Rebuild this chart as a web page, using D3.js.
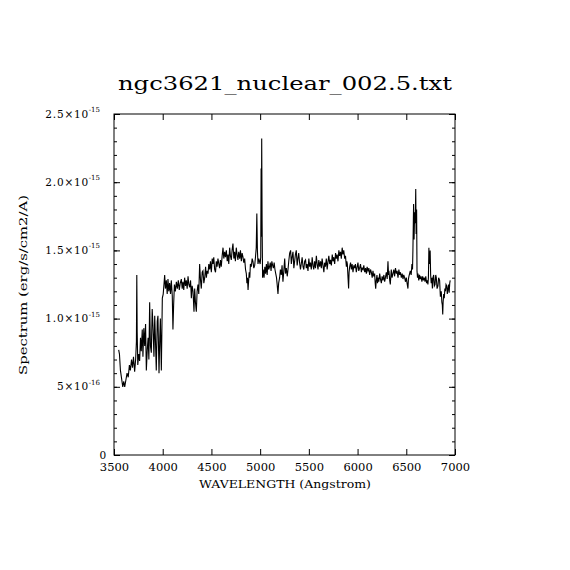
<!DOCTYPE html>
<html>
<head>
<meta charset="utf-8">
<script src="https://cdn.jsdelivr.net/npm/d3@7"></script>
<style>
  body { margin: 0; background: #fff; }
  text { font-family: "DejaVu Serif", serif; fill: #000; }
</style>
</head>
<body>
<div class="canvas"></div>
<script>
// chart text
const title = 'ngc3621_nuclear_002.5.txt';
const xLabel = 'WAVELENGTH (Angstrom)';
const yLabel = 'Spectrum (erg/s/cm2/A)';

// axis ticks (flux in units of 1e-15)
const xTicks = [3500, 4000, 4500, 5000, 5500, 6000, 6500, 7000];
const yTicks = [0, 0.5, 1.0, 1.5, 2.0, 2.5];
const yTickBase = ['0', '5×10', '1.0×10', '1.5×10', '2.0×10', '2.5×10'];
const yTickExp = ['', '-16', '-15', '-15', '-15', '-15'];

// spectrum
const wavelength = [
  3548, 3556, 3566, 3578, 3590, 3600, 3610, 3622, 3634, 3646,
  3658, 3668, 3680, 3690, 3700, 3712, 3722, 3730, 3734, 3738,
  3744, 3754, 3763, 3772, 3780, 3790, 3797, 3806, 3815, 3824,
  3832, 3842, 3850, 3858, 3866, 3874, 3883, 3892, 3900, 3910,
  3918, 3924, 3934, 3944, 3951, 3962, 3970, 3976, 3986, 3996,
  4005, 4014, 4020, 4028, 4037, 4046, 4054, 4062, 4071, 4080,
  4088, 4098, 4105, 4112, 4120, 4130, 4140, 4150, 4160, 4170,
  4180, 4191, 4200, 4208, 4216, 4225, 4234, 4242, 4251, 4260,
  4268, 4277, 4286, 4294, 4302, 4311, 4321, 4328, 4336, 4345,
  4353, 4362, 4370, 4379, 4388, 4396, 4405, 4413, 4422, 4431,
  4440, 4448, 4456, 4465, 4473, 4482, 4490, 4499, 4508, 4516,
  4524, 4533, 4542, 4550, 4558, 4567, 4576, 4584, 4592, 4601,
  4610, 4619, 4627, 4636, 4644, 4653, 4662, 4670, 4678, 4687,
  4695, 4704, 4712, 4721, 4730, 4738, 4746, 4755, 4763, 4772,
  4780, 4790, 4798, 4807, 4815, 4824, 4832, 4841, 4850, 4858,
  4864, 4870, 4876, 4882, 4888, 4894, 4900, 4909, 4918, 4926,
  4935, 4944, 4952, 4960, 4966, 4972, 4978, 4986, 4993, 5000,
  5006, 5010, 5013, 5016, 5020, 5025, 5032, 5040, 5048, 5056,
  5064, 5072, 5080, 5088, 5096, 5104, 5112, 5120, 5128, 5136,
  5144, 5152, 5160, 5168, 5176, 5183, 5190, 5200, 5208, 5217,
  5225, 5234, 5243, 5252, 5260, 5269, 5278, 5286, 5295, 5303,
  5313, 5320, 5328, 5337, 5346, 5354, 5362, 5371, 5380, 5388,
  5396, 5405, 5414, 5422, 5431, 5440, 5448, 5457, 5466, 5474,
  5482, 5491, 5500, 5508, 5516, 5525, 5534, 5542, 5550, 5559,
  5568, 5577, 5585, 5594, 5602, 5611, 5620, 5628, 5636, 5645,
  5654, 5662, 5670, 5679, 5688, 5697, 5705, 5714, 5722, 5731,
  5740, 5748, 5756, 5765, 5774, 5782, 5790, 5799, 5808, 5816,
  5825, 5833, 5842, 5850, 5858, 5868, 5876, 5885, 5890, 5895,
  5902, 5908, 5913, 5919, 5928, 5936, 5944, 5953, 5962, 5970,
  5978, 5987, 5996, 6004, 6012, 6021, 6030, 6039, 6047, 6056,
  6064, 6073, 6082, 6090, 6098, 6107, 6116, 6124, 6133, 6141,
  6150, 6158, 6166, 6175, 6181, 6186, 6192, 6199, 6205, 6210,
  6218, 6227, 6235, 6244, 6252, 6261, 6270, 6278, 6286, 6295,
  6304, 6312, 6318, 6322, 6330, 6336, 6342, 6346, 6354, 6363,
  6372, 6380, 6389, 6398, 6406, 6415, 6424, 6432, 6440, 6449,
  6458, 6466, 6474, 6483, 6492, 6500, 6508, 6517, 6522, 6527,
  6534, 6541, 6550, 6558, 6564, 6568, 6575, 6580, 6586, 6592,
  6597, 6601, 6606, 6610, 6615, 6620, 6628, 6636, 6644, 6652,
  6660, 6668, 6676, 6684, 6692, 6700, 6708, 6716, 6722, 6727,
  6732, 6736, 6740, 6745, 6750, 6756, 6762, 6768, 6774, 6781,
  6788, 6795, 6802, 6808, 6816, 6825, 6832, 6842, 6850, 6859,
  6865, 6870, 6874, 6878, 6884, 6890, 6896, 6902, 6908, 6915,
  6921, 6928, 6934, 6940, 6946, 6951
];
const flux = [
  0.77, 0.74, 0.62, 0.56, 0.50, 0.54, 0.50, 0.55, 0.60, 0.57,
  0.66, 0.62, 0.70, 0.64, 0.72, 0.61, 0.70, 0.83, 1.32, 0.90,
  0.66, 0.74, 0.69, 0.86, 0.76, 0.92, 0.72, 0.93, 0.80, 0.96,
  0.62, 0.78, 0.86, 0.70, 1.12, 0.80, 0.75, 1.07, 0.95, 0.72,
  1.02, 0.88, 0.62, 0.98, 1.02, 0.60, 0.86, 1.00, 0.62, 1.15,
  1.18, 1.26, 1.32, 1.22, 1.28, 1.18, 1.29, 1.20, 1.26, 1.18,
  1.28, 1.17, 0.92, 1.10, 1.25, 1.20, 1.27, 1.22, 1.28, 1.21,
  1.26, 1.29, 1.22, 1.27, 1.21, 1.30, 1.24, 1.28, 1.22, 1.31,
  1.25, 1.23, 1.28, 1.15, 1.24, 1.20, 1.05, 1.22, 1.12, 1.05,
  1.20, 1.25, 1.18, 1.40, 1.28, 1.22, 1.34, 1.35, 1.26, 1.30,
  1.38, 1.30, 1.35, 1.33, 1.40, 1.36, 1.42, 1.34, 1.44, 1.40,
  1.45, 1.36, 1.34, 1.42, 1.38, 1.44, 1.40, 1.37, 1.43, 1.38,
  1.46, 1.52, 1.44, 1.49, 1.45, 1.50, 1.42, 1.47, 1.40, 1.52,
  1.46, 1.43, 1.50, 1.55, 1.44, 1.49, 1.42, 1.52, 1.47, 1.43,
  1.49, 1.44, 1.50, 1.42, 1.48, 1.45, 1.41, 1.44, 1.36, 1.33,
  1.26, 1.30, 1.21, 1.28, 1.34, 1.30, 1.40, 1.38, 1.44, 1.42,
  1.37, 1.39, 1.45, 1.52, 1.77, 1.50, 1.40, 1.44, 1.42, 1.40,
  1.45, 2.10, 1.60, 2.32, 1.72, 1.30, 1.36, 1.30, 1.38, 1.33,
  1.40, 1.32, 1.42, 1.36, 1.38, 1.41, 1.35, 1.42, 1.39, 1.37,
  1.41, 1.36, 1.33, 1.30, 1.24, 1.18, 1.26, 1.30, 1.36, 1.32,
  1.39, 1.27, 1.35, 1.44, 1.33, 1.37, 1.31, 1.36, 1.43, 1.48,
  1.50, 1.40, 1.45, 1.49, 1.37, 1.42, 1.47, 1.50, 1.39, 1.44,
  1.48, 1.41, 1.36, 1.40, 1.45, 1.38, 1.36, 1.42, 1.43, 1.37,
  1.40, 1.35, 1.44, 1.38, 1.41, 1.36, 1.45, 1.39, 1.36, 1.42,
  1.37, 1.46, 1.40, 1.36, 1.43, 1.38, 1.42, 1.37, 1.44, 1.39,
  1.34, 1.41, 1.38, 1.44, 1.36, 1.42, 1.46, 1.40, 1.43, 1.39,
  1.47, 1.42, 1.45, 1.40, 1.48, 1.44, 1.47, 1.42, 1.50, 1.46,
  1.49, 1.44, 1.52, 1.47, 1.50, 1.44, 1.46, 1.38, 1.42, 1.40,
  1.30, 1.22, 1.34, 1.38, 1.41, 1.36, 1.40, 1.34, 1.39, 1.37,
  1.40, 1.34, 1.38, 1.41, 1.35, 1.37, 1.40, 1.34, 1.37, 1.36,
  1.39, 1.34, 1.37, 1.33, 1.38, 1.35, 1.37, 1.32, 1.36, 1.34,
  1.30, 1.35, 1.31, 1.33, 1.26, 1.22, 1.28, 1.32, 1.26, 1.30,
  1.27, 1.33, 1.29, 1.26, 1.31, 1.28, 1.32, 1.27, 1.30, 1.34,
  1.29, 1.42, 1.32, 1.35, 1.28, 1.25, 1.32, 1.36, 1.30, 1.33,
  1.36, 1.31, 1.37, 1.33, 1.35, 1.30, 1.36, 1.32, 1.34, 1.30,
  1.33, 1.29, 1.32, 1.30, 1.27, 1.30, 1.26, 1.22, 1.29, 1.31,
  1.33, 1.35, 1.32, 1.40, 1.36, 1.50, 1.84, 1.58, 1.78, 1.70,
  1.95, 1.62, 1.80, 1.35, 1.30, 1.33, 1.28, 1.32, 1.29, 1.31,
  1.27, 1.31, 1.28, 1.30, 1.27, 1.31, 1.26, 1.28, 1.25, 1.30,
  1.52, 1.40, 1.42, 1.50, 1.32, 1.26, 1.30, 1.22, 1.30, 1.32,
  1.24, 1.25, 1.32, 1.30, 1.22, 1.24, 1.30, 1.28, 1.16, 1.20,
  1.12, 1.10, 1.03, 1.12, 1.18, 1.15, 1.22, 1.20, 1.25, 1.24,
  1.18, 1.22, 1.25, 1.19, 1.26, 1.28
];

const data = wavelength.map((w, i) => ({ w, f: flux[i] }));

// graph dimensions
const margin = { top: 114, left: 114 };
const graphWidth = 341;
const graphHeight = 341;

const svg = d3.select('.canvas')
  .append('svg')
  .attr('width', 570)
  .attr('height', 570);

const graph = svg.append('g')
  .attr('transform', `translate(${margin.left}, ${margin.top})`);

// scales
const x = d3.scaleLinear().domain([3500, 7000]).range([0, graphWidth]);
const y = d3.scaleLinear().domain([0, 2.5]).range([graphHeight, 0]);

// spectrum line
const line = d3.line()
  .x(d => x(d.w))
  .y(d => y(d.f));

graph.append('path')
  .datum(data)
  .attr('fill', 'none')
  .attr('stroke', '#000')
  .attr('stroke-width', 1.1)
  .attr('d', line);

// axes: ticks point inward on all four sides
const minorY = d3.range(0, 26).map(d => d / 10);

const strip = g => { g.select('.domain').remove(); g.selectAll('line').attr('stroke', '#000'); };

graph.append('g')
  .attr('transform', `translate(0, ${graphHeight})`)
  .call(d3.axisBottom(x).tickValues(xTicks).tickSizeInner(-6).tickSizeOuter(0)
    .tickPadding(8).tickFormat(d3.format('d')))
  .call(strip)
  .call(g => g.selectAll('text')
    .attr('font-size', 11.5)
    .style('font-family', '"DejaVu Serif", serif'));

graph.append('g')
  .call(d3.axisTop(x).tickValues(xTicks).tickSize(-6).tickFormat(''))
  .call(strip);

graph.append('g')
  .call(d3.axisLeft(y).tickValues(minorY).tickSize(-3).tickFormat(''))
  .call(strip);
graph.append('g')
  .call(d3.axisLeft(y).tickValues(yTicks).tickSize(-6).tickFormat(''))
  .call(strip);

graph.append('g')
  .attr('transform', `translate(${graphWidth}, 0)`)
  .call(d3.axisRight(y).tickValues(minorY).tickSize(-3).tickFormat(''))
  .call(strip);
graph.append('g')
  .attr('transform', `translate(${graphWidth}, 0)`)
  .call(d3.axisRight(y).tickValues(yTicks).tickSize(-6).tickFormat(''))
  .call(strip);

// y tick labels with exponents
yTicks.forEach((v, i) => {
  const hasExp = yTickExp[i] !== '';
  graph.append('text')
    .attr('x', hasExp ? -25 : -7)
    .attr('y', y(v) + 3.5)
    .attr('text-anchor', 'end')
    .attr('font-size', 10.5)
    .attr('letter-spacing', 0.8)
    .text(yTickBase[i]);
  if (hasExp) {
    graph.append('text')
      .attr('x', -14)
      .attr('y', y(v) - 2)
      .attr('text-anchor', 'end')
      .attr('font-size', 7)
      .text(yTickExp[i]);
  }
});

// frame
graph.append('rect')
  .attr('width', graphWidth)
  .attr('height', graphHeight)
  .attr('fill', 'none')
  .attr('stroke', '#000')
  .attr('stroke-width', 1);

// title and axis labels
svg.append('text')
  .attr('x', 285)
  .attr('y', 90)
  .attr('text-anchor', 'middle')
  .attr('font-size', 18)
  .attr('textLength', 334)
  .attr('lengthAdjust', 'spacingAndGlyphs')
  .text(title);

svg.append('text')
  .attr('x', 285)
  .attr('y', 488)
  .attr('text-anchor', 'middle')
  .attr('font-size', 10.5)
  .attr('textLength', 172)
  .attr('lengthAdjust', 'spacingAndGlyphs')
  .text(xLabel);

svg.append('text')
  .attr('transform', 'translate(27, 285) rotate(-90)')
  .attr('text-anchor', 'middle')
  .attr('font-size', 10.5)
  .attr('textLength', 180)
  .attr('lengthAdjust', 'spacingAndGlyphs')
  .text(yLabel);
</script>
</body>
</html>
